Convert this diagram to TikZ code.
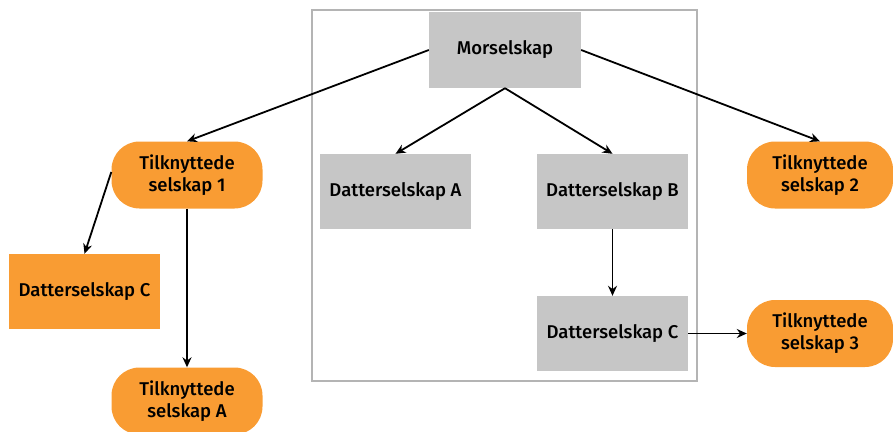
\documentclass[tikz,border=0pt]{standalone}
\usepackage{fontspec}
\setmainfont{Fira Sans}[UprightFont={* Medium}]
\usetikzlibrary{arrows.meta}
\definecolor{boxgray}{HTML}{C6C6C6}
\definecolor{framegray}{HTML}{B4B4B4}
\definecolor{assocorange}{HTML}{F99C33}
\begin{document}
\begin{tikzpicture}[x=1pt,y=-1pt,
  font=\fontsize{18.5}{22}\selectfont,
  subsidiary/.style={fill=boxgray,draw=none,minimum width=151pt,minimum height=75pt,inner sep=0pt,anchor=center},
  orangebox/.style={fill=assocorange,draw=none,minimum width=151pt,minimum height=75pt,inner sep=0pt,anchor=center},
  associate/.style={fill=assocorange,draw=none,rounded corners=28pt,minimum width=151pt,minimum height=67pt,inner sep=0pt,align=center,anchor=center},
  link/.style={line width=1.8pt,-{Stealth[length=10pt,width=9pt]}}]
\useasboundingbox (0,0) rectangle (893,431);
% group frame
\draw[framegray,line width=2pt] (312,10) rectangle (697,381);
% parent and subsidiaries
\node[subsidiary,minimum width=152pt,minimum height=76pt] (ms) at (505,50) {Morselskap};
\node[subsidiary] (da) at (395.5,191.5) {Datterselskap A};
\node[subsidiary] (db) at (612.5,191.5) {Datterselskap B};
\node[subsidiary] (dc) at (612.5,333.5) {Datterselskap C};
% associated companies
\node[associate] (tk1) at (187,175) {Tilknyttede\\selskap 1};
\node[associate,minimum width=146pt] (tk2) at (820,175) {Tilknyttede\\selskap 2};
\node[associate,minimum width=146pt] (tk3) at (820,333.5) {Tilknyttede\\selskap 3};
\node[associate] (tka) at (187,401) {Tilknyttede\\selskap A};
\node[orangebox] (odc) at (84.5,291.5) {Datterselskap C};
% ownership links
\draw[link] (ms.west) -- (tk1.north);
\draw[link] (ms.east) -- (tk2.north);
\draw[link] (ms.south) -- (da.north);
\draw[link] (ms.south) -- (db.north);
\draw[link] (db.south) -- (dc.north);
\draw[link] (dc.east) -- (tk3.west);
\draw[link] ([yshift=3pt]tk1.west) -- (odc.north);
\draw[link] (tk1.south) -- (tka.north);
\end{tikzpicture}
\end{document}
